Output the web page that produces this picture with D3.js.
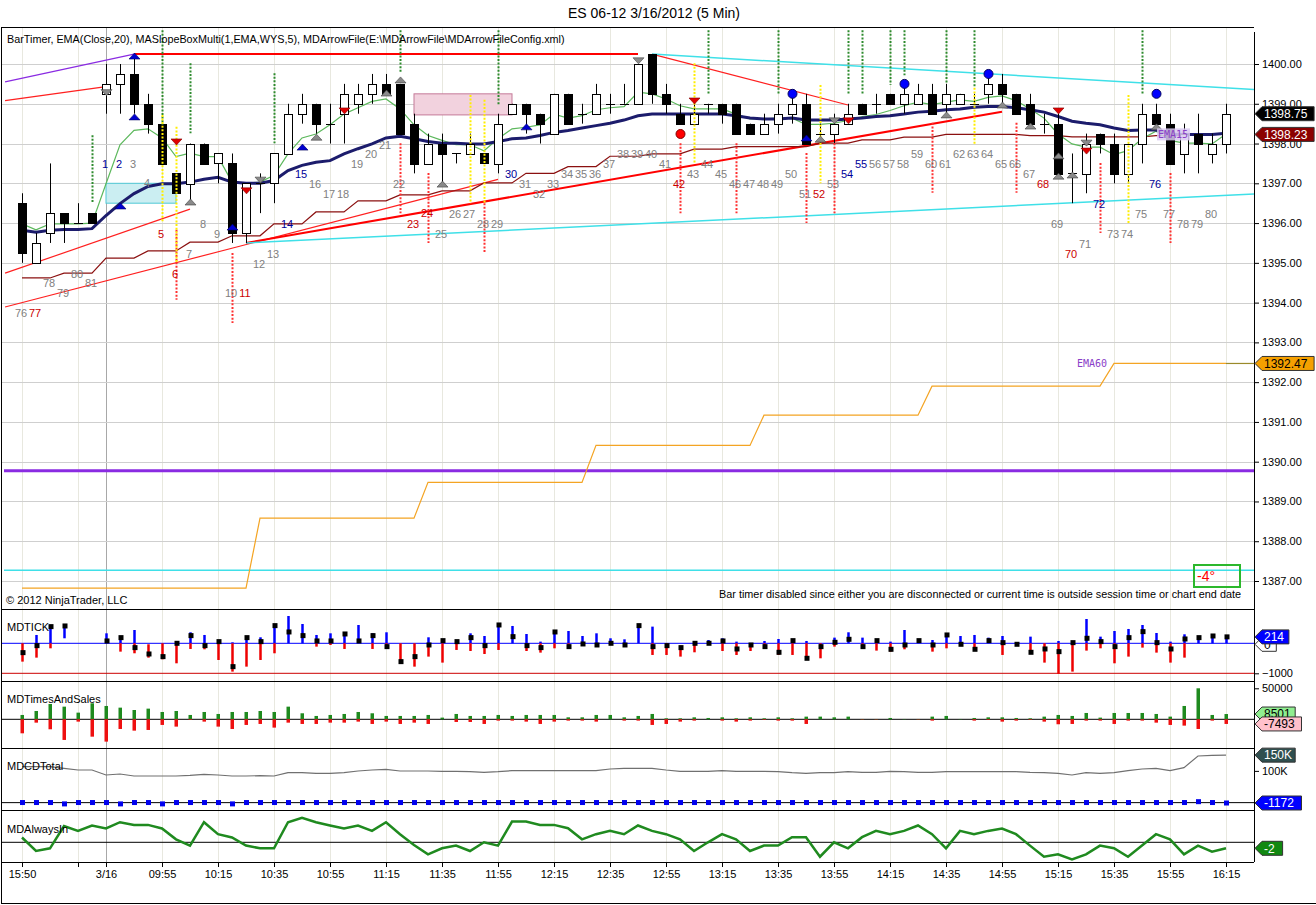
<!DOCTYPE html>
<html>
<head>
<meta charset="utf-8">
<title>ES 06-12 3/16/2012 (5 Min)</title>
<script src="https://d3js.org/d3.v7.min.js"></script>
<style>
body { margin: 0; background: #ffffff; }
text { font-family: "Liberation Sans", Arial, sans-serif; }
</style>
</head>
<body>
<svg id="chart" width="1316" height="905"></svg>
<script>
// ---------- data ----------
var chartTitle = "ES 06-12  3/16/2012 (5 Min)";
var headerText = "BarTimer, EMA(Close,20), MASlopeBoxMulti(1,EMA,WYS,5), MDArrowFile(E:\\MDArrowFile\\MDArrowFileConfig.xml)";
var timerText = "Bar timer disabled since either you are disconnected or current time is outside session time or chart end date";

var timeTicks = [0,4,6,10,14,18,22,26,30,34,38,42,46,50,54,58,62,66,70,74,78,82,86];
var timeLabels = ["15:50","","3/16","09:55","10:15","10:35","10:55","11:15","11:35","11:55","12:15","12:35","12:55","13:15","13:35","13:55","14:15","14:35","14:55","15:15","15:35","15:55","16:15"];
var priceTicks = [1387,1388,1389,1390,1391,1392,1393,1394,1395,1396,1397,1398,1399,1400];

var opens = [1396.5,1395,1395.75,1396.25,1396,1396.25,1399.25,1399.5,1399.75,1399,
  1398.5,1397.25,1397,1398,1397.5,1397.5,1395.75,1397,1397,1397.75,
  1398.75,1399,1398.5,1398.75,1399,1399.25,1399.5,1399.5,1398.5,1397.5,
  1398,1397.75,1397.75,1397.75,1397.5,1398.75,1399,1398.75,1398.25,1399.25,
  1398.75,1398.75,1399,1399,1399,1400.25,1399.25,1398.75,1398.5,1399,
  1399,1399,1398.5,1398.25,1398.5,1398.75,1399,1398.25,1398.25,1398.5,
  1399,1399,1399.25,1399,1399,1399.25,1399,1399,1399,1399.25,
  1399.5,1399.25,1399,1398.5,1398.5,1397.25,1397.25,1398.25,1398,1397.25,
  1398,1398.75,1398.5,1397.75,1398.25,1397.75,1398];
var highs = [1396.75,1395.75,1397.5,1396.25,1396.5,1396.25,1400,1400,1400.25,1399.25,
  1398.5,1397.25,1398,1398,1397.75,1397.75,1397,1397.25,1397.75,1399,
  1399.25,1399,1399,1399.5,1399.5,1399.75,1399.75,1399.5,1398.75,1398.25,
  1398.25,1397.75,1398.25,1397.75,1398.75,1399,1399,1398.75,1399.25,1399.25,
  1399,1399.5,1399.25,1399.5,1400,1400.25,1399.5,1399,1399,1399,
  1399,1399,1398.5,1398.75,1399,1399.25,1399.25,1398.5,1398.75,1399,
  1399,1399.25,1399.25,1399.5,1399.5,1399.5,1399.5,1399.25,1399.25,1399.75,
  1399.75,1399.25,1399.25,1398.75,1398.75,1397.75,1398.25,1398.25,1398.25,1398,
  1399,1399,1398.75,1398.5,1398.75,1398.25,1399];
var lows = [1395,1395,1395.5,1395.5,1396,1396,1398.75,1398.75,1398.75,1398.25,
  1397.5,1396.75,1396.5,1397.5,1397,1395.5,1395.5,1396.25,1396.5,1397.75,
  1398.5,1398.25,1398,1398,1398.75,1399,1399.25,1398.25,1397.25,1397.5,
  1397,1397.5,1397.75,1397.5,1397.25,1398.75,1398.25,1398,1398.25,1398.5,
  1398.5,1398.75,1398.75,1399,1399,1399,1398.75,1398.5,1398.5,1398.75,
  1398.5,1398.25,1398.25,1398.25,1398.25,1398.5,1398,1398,1398,1398.5,
  1398.75,1398.75,1399,1398.75,1399,1398.75,1398.75,1399,1399,1399,
  1399,1398.75,1398.5,1398.25,1397.25,1396.5,1396.75,1397.75,1397,1397,
  1397.5,1398.5,1397.5,1397.25,1397.25,1397.5,1397.75];
var closes = [1395.25,1395.5,1396.25,1396,1396,1396,1399.5,1399.75,1399,1398.5,
  1397.5,1396.75,1398,1397.5,1397.75,1395.75,1397,1397,1397.75,1398.75,
  1399,1398.5,1398.5,1399.25,1399.25,1399.5,1399.25,1398.25,1397.5,1398,
  1397.75,1397.75,1398,1397.5,1398.5,1399,1398.75,1398.5,1399.25,1398.5,
  1398.75,1399.25,1399,1399,1400,1399.25,1399,1398.5,1398.75,1399,
  1398.75,1398.25,1398.25,1398.5,1398.75,1399,1398,1398.25,1398.5,1398.75,
  1398.75,1399,1399,1399.25,1399.25,1398.75,1399.25,1399.25,1399,1399.5,
  1399.25,1398.75,1398.5,1398.5,1397.25,1397.25,1398,1398,1397.25,1398,
  1398.75,1398.5,1397.5,1398.25,1398,1398,1398.75];

var emaFast = [1395.98,1395.83,1395.98,1395.98,1395.98,1396.0,1396.99,1397.97,1398.33,1398.37,
  1398.14,1397.67,1397.76,1397.67,1397.67,1397.03,1397.0,1397.03,1397.2,1397.74,
  1398.14,1398.24,1398.47,1398.74,1398.9,1399.06,1399.12,1398.87,1398.47,1398.2,
  1398.08,1397.97,1397.97,1397.82,1398.12,1398.37,1398.41,1398.47,1398.74,1398.64,
  1398.7,1398.85,1398.9,1398.93,1399.29,1399.25,1399.12,1398.95,1398.87,1398.87,
  1398.87,1398.74,1398.62,1398.62,1398.64,1398.64,1398.48,1398.48,1398.51,1398.58,
  1398.68,1398.73,1398.83,1398.95,1399.04,1398.98,1399.04,1399.1,1399.06,1399.16,
  1399.2,1399.08,1398.87,1398.64,1398.24,1397.99,1397.91,1397.91,1397.72,1397.82,
  1398.12,1398.31,1398.08,1398.01,1398.01,1397.99,1398.24];
var emaSlow = [1395.82,1395.77,1395.82,1395.84,1395.84,1395.86,1396.19,1396.49,1396.74,1396.92,
  1396.99,1396.99,1397.03,1397.1,1397.15,1397.03,1397.0,1397.0,1397.07,1397.32,
  1397.45,1397.53,1397.57,1397.74,1397.87,1397.99,1398.14,1398.18,1398.12,1398.05,
  1398.01,1398.01,1397.99,1397.99,1398.05,1398.12,1398.14,1398.2,1398.28,1398.33,
  1398.39,1398.45,1398.51,1398.59,1398.7,1398.74,1398.74,1398.74,1398.74,1398.74,
  1398.74,1398.7,1398.64,1398.62,1398.62,1398.64,1398.59,1398.59,1398.59,1398.62,
  1398.64,1398.68,1398.7,1398.74,1398.79,1398.81,1398.85,1398.87,1398.91,1398.93,
  1398.93,1398.9,1398.85,1398.79,1398.68,1398.56,1398.51,1398.47,1398.39,1398.33,
  1398.34,1398.34,1398.24,1398.23,1398.23,1398.23,1398.26];
var ema15 = [1394.62,1394.62,1394.62,1394.74,1394.74,1394.74,1395.12,1395.12,1395.12,1395.30,
  1395.30,1395.30,1395.52,1395.52,1395.52,1395.68,1395.68,1395.68,1395.98,1395.98,
  1395.98,1396.28,1396.28,1396.28,1396.56,1396.56,1396.56,1396.71,1396.71,1396.71,
  1396.81,1396.81,1396.81,1397.01,1397.01,1397.01,1397.25,1397.25,1397.25,1397.42,
  1397.42,1397.42,1397.68,1397.68,1397.68,1397.74,1397.74,1397.74,1397.86,1397.86,
  1397.86,1397.92,1397.92,1397.92,1397.92,1397.92,1397.92,1398.01,1398.01,1398.01,
  1398.09,1398.09,1398.09,1398.16,1398.16,1398.16,1398.23,1398.23,1398.23,1398.23,
  1398.23,1398.23,1398.20,1398.20,1398.20,1398.17,1398.17,1398.17,1398.17,1398.17,
  1398.17,1398.20,1398.20,1398.20,1398.23,1398.23,1398.23];
var ema60 = [1386.82,1386.82,1386.82,1386.82,1386.82,1386.82,1386.82,1386.82,1386.82,1386.82,
  1386.82,1386.82,1386.82,1386.82,1386.82,1386.82,1386.82,1388.58,1388.58,1388.58,
  1388.58,1388.58,1388.58,1388.58,1388.58,1388.58,1388.58,1388.58,1388.58,1389.48,
  1389.48,1389.48,1389.48,1389.48,1389.48,1389.48,1389.48,1389.48,1389.48,1389.48,
  1389.48,1390.41,1390.41,1390.41,1390.41,1390.41,1390.41,1390.41,1390.41,1390.41,
  1390.41,1390.41,1390.41,1391.17,1391.17,1391.17,1391.17,1391.17,1391.17,1391.17,
  1391.17,1391.17,1391.17,1391.17,1391.17,1391.90,1391.90,1391.90,1391.90,1391.90,
  1391.90,1391.90,1391.90,1391.90,1391.90,1391.90,1391.90,1391.90,1392.47,1392.47,
  1392.47,1392.47,1392.47,1392.47,1392.47,1392.47,1392.47];

// horizontal levels and drawn objects (bar index / price)
var levelPrices = [1389.77, 1387.27];
var levelKinds = ["purple", "cyan"];
var trendBar1 = [-1.21, -1.21, 8, 45, 45, -1.21, -1.21, 16, 16];
var trendPrice1 = [1399.55, 1399.08, 1400.25, 1400.25, 1400.25, 1394.74, 1393.89, 1395.5, 1395.5];
var trendBar2 = [8, 6, 44, 59, 88, 12, 34, 70, 88];
var trendPrice2 = [1400.25, 1399.43, 1400.25, 1398.97, 1399.36, 1396.35, 1397.1, 1398.8, 1396.73];
var trendKinds = ["purple", "red", "redThick", "red", "cyan", "red", "red", "redThick", "cyan"];
var boxBar1 = [6, 28], boxBar2 = [11, 35];
var boxTop = [1397.0, 1399.25], boxBottom = [1396.5, 1398.72];
var boxKinds = ["cyan", "pink"];

var dotBar = [5,10,12,18,27,34,49,54,59,60,62,63,66,68,80,
  11,15,27,29,33,47,51,56,58,65,71,77,82,
  10,11,32,33,48,57,68,79];
var dotTop = [1398.21,1400.85,1400.02,1399.77,1400.85,1400.85,1400.85,1400.85,1400.85,1400.85,1400.85,1400.85,1400.85,1400.85,1400.85,
  1395.83,1395.25,1398.01,1397.26,1396.5,1398.01,1398.01,1397.76,1398.01,1398.52,1398.52,1397.51,1397.26,
  1398.72,1398.42,1399.22,1399.1,1400.02,1399.47,1399.4,1399.22];
var dotBottom = [1396.5,1398.47,1398.26,1398.01,1399.77,1398.97,1399.22,1399.22,1399.22,1399.22,1399.47,1399.72,1399.52,1399.4,1399.22,
  1394.07,1393.49,1396.25,1395.5,1395.25,1396.25,1396.25,1396.0,1396.25,1396.76,1396.76,1395.75,1395.5,
  1396.0,1395.0,1396.5,1396.5,1397.51,1397.0,1397.95,1396.0];
var dotKinds = ["g","g","g","g","g","g","g","g","g","g","g","g","g","g","g",
  "r","r","r","r","r","r","r","r","r","r","r","r","r",
  "y","y","y","y","y","y","y","y"];

var markBar = [6,8,8,7,11,12,15,16,17,20,21,23,26,27,30,36,44,48,47,55,56,57,58,59,63,66,69,70,72,74,74,74,75,76,76,81,81];
var markPrice = [1399.28,1400.2,1398.67,1396.43,1398.04,1396.53,1395.9,1396.81,1397.08,1397.91,1398.16,1398.82,1399.27,1399.6,1396.98,1398.42,1400.08,1399.07,1398.24,1399.25,1398.14,1398.11,1398.57,1398.57,1399.5,1398.72,1399.75,1398.97,1398.44,1398.82,1397.69,1397.18,1397.21,1398.01,1397.81,1399.25,1398.42];
var markKinds = ["gd","bu","bu","bu","rd","gu","bu","rd","gd","bu","gu","rd","gu","gu","gu","bu","gd","rd","rc","bc","bu","gu","gd","rd","bc","gu","bc","gu","gu","rd","gu","gu","gu","gd","rd","bc","gu"];

var numText = ["76","77","78","79","80","81","1","2","3","4","5","6","7","8","9","10","11","12","13","14","15","16","17","18","19","20",
  "21","22","23","24","25","26","27","28","29","30","31","32","33","34","35","36","37","38","39","40","41","42","43","44","45",
  "46","47","48","49","50","51","52","53","54","55","56","57","58","59","60","61","62","63","64","65","66","67","68","69","70",
  "71","72","73","74","75","76","77","78","79","80"];
var numPrice = [1393.74,1393.74,1394.49,1394.24,1394.72,1394.49,1397.49,1397.49,1397.49,1397.01,1395.73,1394.72,1395.22,1395.98,1395.73,1394.24,1394.24,1394.97,1395.22,1395.98,1397.23,1396.98,1396.73,1396.73,1397.49,1397.74,
  1397.96,1396.98,1395.98,1396.25,1395.73,1396.23,1396.23,1395.98,1395.98,1397.23,1396.98,1396.73,1396.98,1397.23,1397.23,1397.23,1397.49,1397.74,1397.74,1397.74,1397.49,1396.98,1397.23,1397.49,1397.23,
  1396.98,1396.98,1396.98,1396.98,1397.23,1396.73,1396.73,1396.98,1397.23,1397.49,1397.49,1397.49,1397.49,1397.74,1397.49,1397.49,1397.74,1397.74,1397.74,1397.49,1397.49,1397.23,1396.98,1395.98,1395.22,
  1395.47,1396.48,1395.73,1395.73,1396.23,1396.98,1396.23,1395.98,1395.98,1396.23];
var numKinds = ["g","r","g","g","g","g","b","b","g","g","r","r","g","g","g","g","r","g","g","b","b","g","g","g","g","g",
  "g","g","r","r","g","g","g","g","g","b","g","g","g","g","g","g","g","g","g","g","g","r","g","g","g",
  "g","g","g","g","g","g","r","g","b","b","g","g","g","g","g","g","g","g","g","g","g","g","r","g","r",
  "g","b","g","g","g","b","g","g","g","g"];

// lower panels
var tickHi = [0,278,556,578,null,null,333,189,444,-33,
  0,0,367,278,56,33,222,200,611,911,
  644,278,333,311,611,333,367,0,0,200,
  89,56,333,244,667,578,311,56,444,411,
  244,333,167,133,633,556,0,-78,56,111,
  167,56,0,78,144,144,78,0,189,367,
  189,89,56,444,133,111,244,244,278,189,
  244,33,222,0,78,56,811,222,411,478,
  611,344,56,300,222,267,267];
var tickLo = [-611,-478,-167,167,null,null,0,-278,-333,-478,
  -533,-667,-189,-200,-556,-944,-778,-556,-333,0,
  0,-111,-56,-189,0,-189,-111,-611,-778,-444,
  -644,-222,-256,-356,-222,0,-256,-311,-167,-111,
  -22,-56,0,-56,0,-389,-389,-444,-300,0,
  -256,-389,-256,-111,-389,-389,-556,-500,-111,0,
  -111,-244,-278,-200,0,-278,-167,-33,-200,0,
  -389,-33,-300,-644,-1022,-944,-244,-167,-667,-444,
  -144,-311,-644,-478,0,0,0];
var tickCl = [-311,-78,556,578,null,null,78,189,-144,-356,
  -444,0,256,-78,56,-778,189,56,589,378,
  256,78,78,311,78,256,-111,-611,-444,-56,
  89,56,189,-78,611,222,-78,-144,378,-111,
  -22,-56,0,-56,589,-111,-78,-144,0,0,
  78,-189,-56,-111,-300,89,-500,-111,33,133,
  -111,89,-200,-56,89,-56,278,-33,-200,89,
  22,-33,-300,-189,-278,22,167,56,-111,189,
  389,22,-189,144,189,244,214];
var tsBuy = [7000,13400,24700,20400,10750,25800,21500,18800,15000,17200,
  11800,13400,7000,11800,8600,11800,11800,13400,11800,20400,
  9700,5400,7000,8600,11800,9700,5400,5400,5400,7000,
  2700,8600,5400,5400,7000,5400,7000,7000,7000,3200,
  3200,7000,7000,3200,5400,8600,1600,1600,3200,2150,
  3200,1600,3200,1600,3200,1600,4300,4300,3200,4300,
  500,500,2150,500,500,4300,5400,500,2150,3200,
  3200,2150,1600,4300,7000,5400,10200,2700,10200,10200,
  10200,8600,4300,21500,50000,7000,8501];
var tsSell = [22600,5400,16100,33300,3760,28000,36000,15600,18300,17200,
  9100,11800,1000,3760,11800,15600,9100,7500,13400,5400,
  7500,7500,5400,5400,3760,7500,3760,7500,5400,7500,
  0,4300,4300,7500,2150,2150,3760,7500,3760,2150,
  2150,3760,0,2150,2150,9100,7500,3760,2150,0,
  2150,3760,2150,1000,2150,2150,7500,0,0,0,
  500,500,0,0,500,2150,0,0,2150,1000,
  3760,2150,1000,3760,8000,7500,2150,2150,7500,2150,
  2150,5400,9100,10200,15600,2150,7493];
// cumulative delta, thousands
var cdTotal = [113.2,113.2,113.2,108.0,102.8,102.8,87.0,90.2,83.9,83.9,
  83.9,83.9,85.9,89.1,87.0,83.9,83.9,84.9,83.9,94.3,
  94.3,92.3,92.3,94.3,99.6,102.8,104.9,99.6,99.6,99.6,
  98.6,98.6,97.5,95.4,97.5,100.6,100.6,100.6,100.6,100.6,
  100.6,100.6,105.9,108.0,108.0,108.0,102.8,98.6,98.6,98.6,
  100.6,98.6,98.6,98.6,97.5,94.3,92.3,94.3,94.3,97.5,
  95.4,95.4,98.6,97.5,95.4,95.4,97.5,97.5,97.5,97.5,
  97.5,97.5,95.4,94.3,92.3,87.0,94.3,92.3,94.3,100.6,
  105.9,108.0,100.6,110.1,146.8,148.9,149.6];
var cdDelta = [0.3,0.3,0.3,-4,0.3,0.3,0.3,-4,0.3,0.3,
  -4,0.3,0.3,0.3,0.3,-4,0.3,0.3,0.3,0.3,
  0.3,0.3,0.3,0.3,0.3,0.3,0.3,0.3,0.3,0.3,
  0.3,0.3,0.3,0.3,0.3,0.3,0.3,0.3,0.3,0.3,
  0.3,0.3,0.3,0.3,0.3,0.3,0.3,0.3,0.3,0.3,
  0.3,0.3,0.3,0.3,0.3,0.3,0.3,0.3,0.3,0.3,
  0.3,0.3,0.3,0.3,0.3,0.3,0.3,0.3,0.3,0.3,
  0.3,0.3,0.3,0.3,0.3,0.3,0.3,0.3,0.3,0.3,
  0.3,0.3,0.3,0.3,3,0.3,-1.172];
var alwaysIn = [1.6,-2.9,-2,5.4,3.8,5.6,4.6,6.7,5.8,5.8,
  4.6,1,-1.1,6.7,2.7,1.6,-1.1,-2,-2,6.7,
  8.2,6.7,5.6,4.6,5.6,3.8,6.7,2.7,-0.9,-4,
  -2,-1.1,-2.9,0,-1.1,6.9,6.9,5.8,5.8,4.7,
  1,2.7,3.8,2.7,5.6,3.8,2.7,1,-2.9,0,
  2.7,1,-2.9,-1.1,-1.1,1.7,1.7,-4.8,0,-2,
  1.7,3.8,2.7,3.8,5.6,2.7,-2,3.8,2.7,3.8,
  4.6,2.7,-1.1,-4.8,-4,-5.7,-4,-1.1,-2,-4.8,
  -1.1,2.7,1,-4,-1.1,-3.1,-2];

// ---------- chart ----------
var svg = d3.select("#chart");
var W = 1316, H = 905;
var plotL = 2, plotR = 1254;
var x = d3.scaleLinear().domain([0, 86]).range([22, 1226]);
var y = d3.scaleLinear().domain([1387, 1400]).range([581, 64]);
var yTick = d3.scaleLinear().domain([-1000, 0]).range([673.3, 643.3]);
var yTs = d3.scaleLinear().domain([0, 50000]).range([719.3, 688.3]);
var yCd = d3.scaleLinear().domain([-1.172, 150]).range([803, 755]);
var yAi = d3.scaleLinear().domain([0, -2]).range([842.3, 848.3]);
var bars = d3.range(opens.length);
var px = function(i){ return Math.round(x(i)) + 0.5; };
var crisp = function(v){ return Math.round(v) + 0.5; };

var kindColor = {
	purple:"#8a2be2", cyan:"#3fe0e8", red:"#ff2020", redThick:"#ff0000",
	g:"#2e8b2e", r:"#ff3030", y:"#ffee00"
};
var numColor = { g:"#808080", b:"#000099", r:"#cc0000" };

svg.append("rect").attr("width", W).attr("height", H).attr("fill", "#ffffff");

svg.append("text").attr("x", 654).attr("y", 13).attr("dy", "0.35em")
	.attr("text-anchor", "middle").attr("font-size", 14).text(chartTitle);

// vertical grid through all panels
svg.append("g").selectAll("line").data(timeTicks).enter().append("line")
	.attr("x1", px).attr("x2", px).attr("y1", 28).attr("y2", 862)
	.attr("stroke", function(d){ return d == 6 ? "#a8a8a8" : "#e8e8df"; });

svg.append("clipPath").attr("id", "mainClip").append("rect")
	.attr("x", plotL).attr("y", 28).attr("width", plotR - plotL).attr("height", 581);
var main = svg.append("g").attr("clip-path", "url(#mainClip)");

main.append("g").selectAll("line").data(priceTicks).enter().append("line")
	.attr("x1", plotL).attr("x2", plotR)
	.attr("y1", function(d){ return crisp(y(d)); }).attr("y2", function(d){ return crisp(y(d)); })
	.attr("stroke", "#cfcfcf");

main.append("g").selectAll("line").data(levelPrices).enter().append("line")
	.attr("x1", plotL + 2).attr("x2", plotR)
	.attr("y1", function(d){ return y(d); }).attr("y2", function(d){ return y(d); })
	.attr("stroke", function(d, i){ return kindColor[levelKinds[i]]; })
	.attr("stroke-width", function(d, i){ return levelKinds[i] == "purple" ? 3 : 1.5; });

var priceLine = d3.line().x(function(d, i){ return x(i); }).y(function(d){ return y(d); });

// EMA60 step line
main.append("path").attr("d", priceLine(ema60)).attr("fill", "none").attr("stroke", "#f4a423").attr("stroke-width", 1.2);
main.append("line").attr("x1", x(86)).attr("x2", plotR)
	.attr("y1", y(ema60[86])).attr("y2", y(ema60[86])).attr("stroke", "#9a8a2a").attr("stroke-width", 1.2);
main.append("text").attr("x", x(78) - 7).attr("y", y(ema60[86])).attr("dy", "0.35em")
	.attr("text-anchor", "end").attr("font-size", 10).attr("fill", "#8a40c8")
	.style("font-family", "'DejaVu Sans Mono', monospace").text("EMA60");

// MASlopeBox / zone boxes
main.append("g").selectAll("rect").data(boxKinds).enter().append("rect")
	.attr("x", function(d, i){ return x(boxBar1[i]); })
	.attr("width", function(d, i){ return x(boxBar2[i]) - x(boxBar1[i]); })
	.attr("y", function(d, i){ return y(boxTop[i]); })
	.attr("height", function(d, i){ return y(boxBottom[i]) - y(boxTop[i]); })
	.attr("fill", function(d){ return d == "cyan" ? "#cbeef2" : "#f2d2de"; })
	.attr("stroke", function(d){ return d == "cyan" ? "#50c8d4" : "#c47a98"; });

// drawn trend lines
main.append("g").selectAll("line").data(trendKinds).enter().append("line")
	.attr("x1", function(d, i){ return x(trendBar1[i]); })
	.attr("y1", function(d, i){ return y(trendPrice1[i]); })
	.attr("x2", function(d, i){ return x(trendBar2[i]); })
	.attr("y2", function(d, i){ return y(trendPrice2[i]); })
	.attr("stroke", function(d){ return kindColor[d]; })
	.attr("stroke-width", function(d){ return d == "redThick" ? 2 : (d == "cyan" ? 1.5 : 1.2); });

// moving averages
main.append("path").attr("d", priceLine(ema15)).attr("fill", "none").attr("stroke", "#8b1010").attr("stroke-width", 1.2);
main.append("path").attr("d", priceLine(emaFast)).attr("fill", "none").attr("stroke", "#5cb85c").attr("stroke-width", 1.2);
main.append("path").attr("d", priceLine(emaSlow)).attr("fill", "none").attr("stroke", "#1c1c6c").attr("stroke-width", 3);

// candles
var candle = main.append("g");
candle.selectAll("line.wick").data(bars).enter().append("line").attr("class", "wick")
	.attr("x1", px).attr("x2", px)
	.attr("y1", function(i){ return y(highs[i]); }).attr("y2", function(i){ return y(lows[i]); })
	.attr("stroke", "#000");
candle.selectAll("rect").data(bars.filter(function(i){ return opens[i] != closes[i]; })).enter().append("rect")
	.attr("x", function(i){ return Math.round(x(i)) - 3.5; })
	.attr("width", 8)
	.attr("y", function(i){ return crisp(y(Math.max(opens[i], closes[i]))); })
	.attr("height", function(i){ return Math.round(Math.abs(y(opens[i]) - y(closes[i]))); })
	.attr("fill", function(i){ return closes[i] < opens[i] ? "#000" : "#fff"; })
	.attr("stroke", "#000");
candle.selectAll("line.doji").data(bars.filter(function(i){ return opens[i] == closes[i]; })).enter().append("line").attr("class", "doji")
	.attr("x1", function(i){ return Math.round(x(i)) - 4; }).attr("x2", function(i){ return Math.round(x(i)) + 5; })
	.attr("y1", function(i){ return crisp(y(closes[i])); }).attr("y2", function(i){ return crisp(y(closes[i])); })
	.attr("stroke", "#000");

// dotted signal lines
main.append("g").selectAll("line").data(dotBar).enter().append("line")
	.attr("x1", px).attr("x2", px)
	.attr("y1", function(d, i){ return y(dotTop[i]); }).attr("y2", function(d, i){ return y(dotBottom[i]); })
	.attr("stroke", function(d, i){ return kindColor[dotKinds[i]]; })
	.attr("stroke-width", 2).attr("stroke-dasharray", "2,1.6");

// arrows and dots
var marks = main.append("g");
markBar.forEach(function(b, i)
{
	var k = markKinds[i];
	var cx = Math.round(x(b)) + 0.5, cy = y(markPrice[i]);
	var fill = k[0] == "b" ? "#0000d0" : (k[0] == "r" ? "#e00000" : "#8a8a8a");
	var edge = k[0] == "b" ? "#000060" : (k[0] == "r" ? "#800000" : "#404040");
	if(k[1] == "c")
	{
		marks.append("circle").attr("cx", cx).attr("cy", cy).attr("r", 4.5)
			.attr("fill", k[0] == "b" ? "#0000ff" : "#ff0000").attr("stroke", edge);
	}
	else
	{
		var s = k[1] == "u" ? 1 : -1;
		marks.append("path")
			.attr("d", "M" + (cx - 5.5) + "," + (cy + 3 * s) + "L" + (cx + 5.5) + "," + (cy + 3 * s) + "L" + cx + "," + (cy - 3 * s) + "Z")
			.attr("fill", fill).attr("stroke", edge).attr("stroke-width", 0.6);
	}
});

// bar numbers
main.append("g").selectAll("text").data(numText).enter().append("text")
	.attr("x", function(d, i){ return x(i) - 1; })
	.attr("y", function(d, i){ return y(numPrice[i]); })
	.attr("dy", "0.35em").attr("text-anchor", "middle").attr("font-size", 11)
	.attr("fill", function(d, i){ return numColor[numKinds[i]]; })
	.text(function(d){ return d; });

// EMA15 tag near the last bars
main.append("rect").attr("x", x(81) + 1).attr("y", y(ema15[86]) - 6).attr("width", 33).attr("height", 12)
	.attr("fill", "#d9c9f2").attr("opacity", 0.85);
main.append("text").attr("x", x(81) + 2).attr("y", y(ema15[86])).attr("dy", "0.35em")
	.attr("font-size", 10).attr("fill", "#8a40c8").style("font-family", "'DejaVu Sans Mono', monospace")
	.text("EMA15");

// texts inside the main panel
svg.append("text").attr("x", 7).attr("y", 39).attr("dy", "0.35em").attr("font-size", 10.8).text(headerText);
svg.append("text").attr("x", 6).attr("y", 600).attr("dy", "0.35em").attr("font-size", 11).text("\u00a9 2012 NinjaTrader, LLC");
svg.append("text").attr("x", 1241).attr("y", 594).attr("dy", "0.35em").attr("text-anchor", "end").attr("font-size", 10.85).text(timerText);
svg.append("rect").attr("x", 1194).attr("y", 565).attr("width", 46).attr("height", 22)
	.attr("fill", "none").attr("stroke", "#2cb82c").attr("stroke-width", 2);
svg.append("text").attr("x", 1197).attr("y", 576).attr("dy", "0.35em").attr("font-size", 14).attr("fill", "#ff0000").text("-4\u00b0");

// ---------- lower panels ----------
var tk = svg.append("g");
tk.append("line").attr("x1", plotL).attr("x2", plotR).attr("y1", yTick(0)).attr("y2", yTick(0)).attr("stroke", "#0000ff");
tk.append("line").attr("x1", plotL).attr("x2", plotR).attr("y1", yTick(-1000)).attr("y2", yTick(-1000)).attr("stroke", "#cc0000");
var tkBars = bars.filter(function(i){ return tickHi[i] !== null; });
tk.selectAll("line.up").data(tkBars.filter(function(i){ return tickHi[i] > 0; })).enter().append("line").attr("class", "up")
	.attr("x1", px).attr("x2", px)
	.attr("y1", function(i){ return yTick(tickHi[i]); }).attr("y2", function(i){ return yTick(Math.max(tickLo[i], 0)); })
	.attr("stroke", "#0000ff").attr("stroke-width", 2.5);
tk.selectAll("line.dn").data(tkBars.filter(function(i){ return tickLo[i] < 0; })).enter().append("line").attr("class", "dn")
	.attr("x1", px).attr("x2", px)
	.attr("y1", function(i){ return yTick(Math.min(tickHi[i], 0)); }).attr("y2", function(i){ return yTick(tickLo[i]); })
	.attr("stroke", "#ee0000").attr("stroke-width", 2.5);
tk.selectAll("rect").data(tkBars).enter().append("rect")
	.attr("x", function(i){ return x(i) - 1.5; }).attr("y", function(i){ return yTick(tickCl[i]) - 2.5; })
	.attr("width", 5).attr("height", 5).attr("fill", "#000");

var ts = svg.append("g");
ts.append("line").attr("x1", plotL).attr("x2", plotR).attr("y1", yTs(0)).attr("y2", yTs(0)).attr("stroke", "#000");
ts.selectAll("rect.buy").data(bars).enter().append("rect").attr("class", "buy")
	.attr("x", function(i){ return x(i) - 1.5; }).attr("width", 3.5)
	.attr("y", function(i){ return yTs(tsBuy[i]); }).attr("height", function(i){ return yTs(0) - yTs(tsBuy[i]); })
	.attr("fill", "#1f8a1f");
ts.selectAll("rect.sell").data(bars).enter().append("rect").attr("class", "sell")
	.attr("x", function(i){ return x(i) - 1.5; }).attr("width", 3.5)
	.attr("y", yTs(0)).attr("height", function(i){ return yTs(-tsSell[i]) - yTs(0); })
	.attr("fill", "#ee1010");

var cd = svg.append("g");
cd.append("line").attr("x1", plotL).attr("x2", plotR).attr("y1", yCd(0)).attr("y2", yCd(0)).attr("stroke", "#000");
cd.append("path").attr("d", d3.line().x(function(d, i){ return x(i); }).y(function(d){ return yCd(d); })(cdTotal))
	.attr("fill", "none").attr("stroke", "#707070").attr("stroke-width", 1.2);
cd.selectAll("rect").data(bars).enter().append("rect")
	.attr("x", function(i){ return x(i) - 2; }).attr("y", function(i){ return yCd(cdDelta[i]) - 2.5; })
	.attr("width", 5).attr("height", 5).attr("fill", "#0000ee");

var ai = svg.append("g");
ai.append("line").attr("x1", plotL).attr("x2", plotR).attr("y1", yAi(0)).attr("y2", yAi(0)).attr("stroke", "#000");
ai.append("path").attr("d", d3.line().x(function(d, i){ return x(i); }).y(function(d){ return yAi(d); })(alwaysIn))
	.attr("fill", "none").attr("stroke", "#1f8a1f").attr("stroke-width", 2.5);

// panel titles
var panelNames = ["MDTICK", "MDTimesAndSales", "MDCDTotal", "MDAlwaysIn"];
var panelTitleY = [627, 699, 766, 829];
svg.append("g").selectAll("text").data(panelNames).enter().append("text")
	.attr("x", 7).attr("y", function(d, i){ return panelTitleY[i]; }).attr("dy", "0.35em")
	.attr("font-size", 11).text(function(d){ return d; });

// frames
var seps = [27, 609, 681, 748, 810, 862];
svg.append("g").selectAll("line").data(seps).enter().append("line")
	.attr("x1", 1).attr("x2", plotR).attr("y1", function(d){ return d + 0.5; }).attr("y2", function(d){ return d + 0.5; })
	.attr("stroke", "#000");
svg.append("line").attr("x1", 1.5).attr("x2", 1.5).attr("y1", 27).attr("y2", 904).attr("stroke", "#000");
svg.append("line").attr("x1", plotR + 0.5).attr("x2", plotR + 0.5).attr("y1", 32).attr("y2", 862).attr("stroke", "#000");
svg.append("line").attr("x1", 1).attr("x2", W).attr("y1", 903.5).attr("y2", 903.5).attr("stroke", "#000");

// axes
function styleAxis(g)
{
	g.select(".domain").remove();
	g.attr("font-family", "'Liberation Sans', Arial, sans-serif").attr("font-size", 11);
	g.selectAll("text").attr("fill", "#000");
	g.selectAll("line").attr("stroke", "#000");
}
svg.append("g").attr("transform", "translate(" + plotR + ",0)")
	.call(d3.axisRight(y).tickValues(priceTicks).tickFormat(d3.format(".2f")).tickSize(5).tickPadding(3)).call(styleAxis);
svg.append("g").attr("transform", "translate(" + plotR + ",0)")
	.call(d3.axisRight(yTick).tickValues([-1000]).tickFormat(d3.format("d")).tickSize(5).tickPadding(3)).call(styleAxis);
svg.append("g").attr("transform", "translate(" + plotR + ",0)")
	.call(d3.axisRight(yTs).tickValues([50000]).tickFormat(d3.format("d")).tickSize(5).tickPadding(3)).call(styleAxis);
svg.append("g").attr("transform", "translate(" + plotR + ",0)")
	.call(d3.axisRight(yCd).tickValues([100]).tickFormat(function(d){ return d + "K"; }).tickSize(5).tickPadding(3)).call(styleAxis);
svg.append("g").attr("transform", "translate(0,862)")
	.call(d3.axisBottom(x).tickValues(timeTicks).tickFormat(function(d, i){ return timeLabels[i]; }).tickSize(5).tickPadding(3)).call(styleAxis);

// value tags on the right
function tag(yv, txt, fill, color)
{
	var w = txt.length * 6.3 + 8;
	var g = svg.append("g");
	g.append("path")
		.attr("d", "M" + (plotR + 1) + "," + yv + "L" + (plotR + 8) + "," + (yv - 7) + "L" + (plotR + 8 + w) + "," + (yv - 7) +
			"L" + (plotR + 8 + w) + "," + (yv + 7) + "L" + (plotR + 8) + "," + (yv + 7) + "Z")
		.attr("fill", fill).attr("stroke", "#333");
	g.append("text").attr("x", plotR + 10).attr("y", yv).attr("dy", "0.36em")
		.attr("font-size", 12).attr("fill", color).text(txt);
}
tag(y(closes[86]), closes[86].toFixed(2), "#000000", "#ffffff");
tag(y(ema15[86]), ema15[86].toFixed(2), "#8b0000", "#ffffff");
tag(y(ema60[86]), ema60[86].toFixed(2), "#f5a000", "#000000");
tag(yTick(0) + 1, "0", "#ffffff", "#000000");
tag(yTick(tickCl[86]), String(tickCl[86]), "#0000ff", "#ffffff");
tag(yTs(tsBuy[86]), String(tsBuy[86]), "#90ee90", "#000000");
tag(yTs(-tsSell[86]), String(-tsSell[86]), "#ffc0cb", "#000000");
tag(yCd(cdTotal[86]), Math.round(cdTotal[86]) + "K", "#2f4f4f", "#ffffff");
tag(yCd(cdDelta[86]), String(Math.round(cdDelta[86] * 1000)), "#0000ff", "#ffffff");
tag(yAi(alwaysIn[86]), String(alwaysIn[86]), "#118811", "#ffffff");
</script>
</body>
</html>
